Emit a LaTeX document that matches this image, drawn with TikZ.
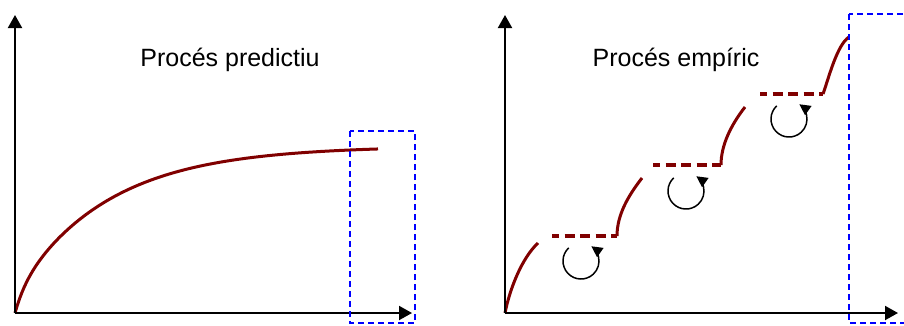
\documentclass[tikz,border=0pt]{standalone}
\usepackage{fontspec}
\setmainfont{Liberation Sans}
\usetikzlibrary{arrows.meta}
\definecolor{curvered}{HTML}{800000}
\definecolor{boxblue}{HTML}{0000FF}
\begin{document}
\begin{tikzpicture}[x=1pt,y=-1pt,
  axis/.style={line width=2pt,-{Triangle[length=13pt,width=14pt]}},
  growth/.style={line width=3pt,draw=curvered},
  pause/.style={line width=3.3pt,draw=curvered,dash pattern=on 10pt off 5.5pt,dash phase=3pt},
  focusbox/.style={line width=1.5pt,draw=boxblue,dash pattern=on 6pt off 4pt},
  loop/.style={line width=1.5pt,-{Triangle[length=11pt,width=11pt]}},
  title/.style={font=\fontsize{25}{30}\selectfont,anchor=base,inner sep=0pt}]
\useasboundingbox (0,0) rectangle (904,325);
% ---------- left panel ----------
\coordinate (lo) at (15,313);
\coordinate (ly) at (15,15);
\coordinate (lx) at (412,313);
\draw[growth] plot[domain=0:363,samples=160]
  ({15+\x},{313-20*(1-exp(-min(\x,150)/10))-147*(1-exp(-\x/93))});
\draw[axis] (lo) -- (ly);
\draw[axis] (lo) -- (lx);
\draw[focusbox] (350,131) rectangle (415,323);
\node[title] (ltitle) at (230,66) {Procés predictiu};
% ---------- right panel ----------
\coordinate (ro) at (505,313);
\coordinate (ry) at (505,15);
\coordinate (rx) at (898,313);
\draw[growth] (505,313) .. controls (510,288) and (522,258) .. (538,243);
\draw[pause] (552,236) -- (617,236);
\draw[growth] (617,236) .. controls (617,215) and (628,196) .. (642,178);
\draw[pause] (653,165) -- (721,165);
\draw[growth] (721,165) .. controls (721,145) and (731,125) .. (745,107);
\draw[pause] (760,94) -- (823,94);
\draw[growth] (823,94) .. controls (829,77) and (837,45) .. (849,37);
\draw[axis] (ro) -- (ry);
\draw[axis] (ro) -- (rx);
\draw[focusbox] (849,14) rectangle (912,323);
\node[title] (rtitle) at (676,66) {Procés empíric};
% loops
\coordinate (c1) at (581,261);
\coordinate (c2) at (686,191);
\coordinate (c3) at (789,119);
\foreach \c in {c1,c2,c3}
  \draw[loop] ([shift={(133:18pt)}]\c) arc[start angle=133,end angle=415,radius=18pt];
\end{tikzpicture}
\end{document}
